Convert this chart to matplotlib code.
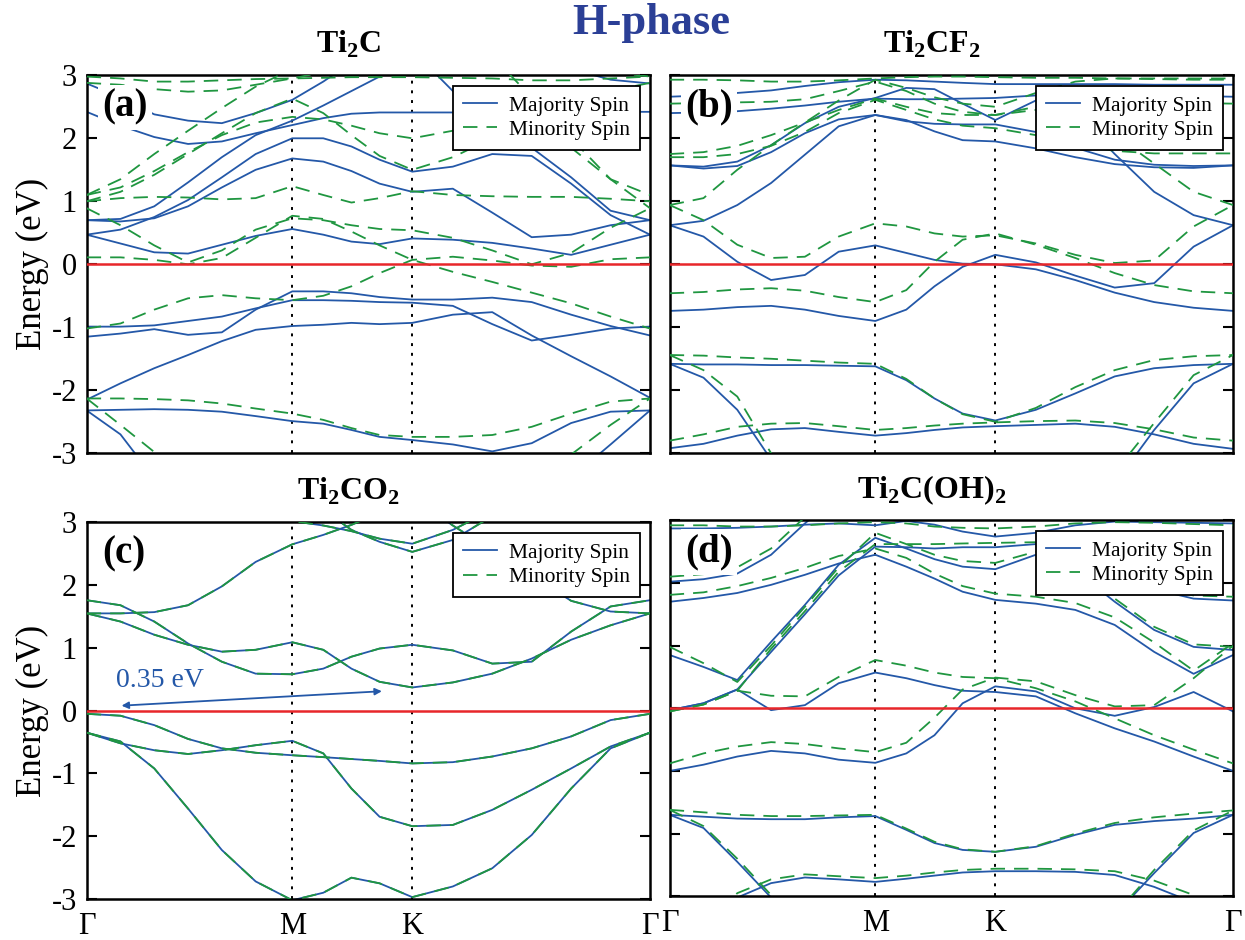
import numpy as np
import matplotlib
matplotlib.use('Agg')
import matplotlib.pyplot as plt
from matplotlib.lines import Line2D

plt.rcParams['font.family'] = 'serif'
plt.rcParams['font.serif'] = ['Liberation Serif', 'DejaVu Serif']
plt.rcParams['mathtext.fontset'] = 'custom'
plt.rcParams['mathtext.rm'] = 'Liberation Serif'
plt.rcParams['mathtext.bf'] = 'Liberation Serif:bold'
plt.rcParams['axes.unicode_minus'] = False

nan = np.nan

# k-path positions (Gamma - M - K - Gamma), read along the x axis
kpts = [0, 0.06, 0.12, 0.18, 0.24, 0.30, 0.365, 0.42, 0.47, 0.52, 0.578,
        0.65, 0.72, 0.79, 0.86, 0.93, 1.0]
kticks = [0.0, 0.365, 0.578, 1.0]
klabels = ['Γ', 'M', 'K', 'Γ']
yticks = [3, 2, 1, 0, -1, -2, -3]

titles = [r'Ti$_\mathbf{2}$C', r'Ti$_\mathbf{2}$CF$_\mathbf{2}$',
          r'Ti$_\mathbf{2}$CO$_\mathbf{2}$', r'Ti$_\mathbf{2}$C(OH)$_\mathbf{2}$']
tags = ['(a)', '(b)', '(c)', '(d)']

# ---- Ti2C ----
a_up = [
    [-2.32, -2.31, -2.30, -2.31, -2.34, -2.41, -2.49, -2.53, -2.63, -2.74, -2.79, -2.86, -2.97, -2.84, -2.52, -2.34, -2.32],
    [-2.32, -2.70, -3.40, nan, nan, nan, nan, nan, nan, nan, nan, nan, nan, nan, -3.39, -2.86, -2.32],
    [-2.15, -1.89, -1.65, -1.44, -1.22, -1.04, -0.98, -0.96, -0.93, -0.95, -0.93, -0.80, -0.76, -1.13, -1.46, -1.78, -2.12],
    [-1.15, -1.10, -1.03, -1.12, -1.08, -0.72, -0.43, -0.43, -0.46, -0.52, -0.56, -0.56, -0.53, -0.60, -0.80, -0.98, -1.13],
    [-0.99, -0.99, -0.97, -0.90, -0.83, -0.70, -0.57, -0.57, -0.58, -0.60, -0.61, -0.66, -0.95, -1.21, -1.12, -1.02, -0.99],
    [0.47, 0.33, 0.19, 0.17, 0.31, 0.45, 0.56, 0.47, 0.36, 0.32, 0.41, 0.39, 0.34, 0.25, 0.15, 0.31, 0.47],
    [0.70, 0.68, 0.73, 0.92, 1.22, 1.50, 1.68, 1.63, 1.48, 1.28, 1.15, 1.20, 0.82, 0.43, 0.47, 0.62, 0.70],
    [0.47, 0.55, 0.75, 1.02, 1.38, 1.75, 2.00, 2.00, 1.87, 1.66, 1.47, 1.55, 1.75, 1.72, 1.28, 0.78, 0.47],
    [nan, nan, nan, nan, nan, nan, nan, nan, nan, nan, 3.40, 2.75, 2.30, 1.85, 1.38, 0.85, 0.70],
    [2.42, 2.20, 2.02, 1.91, 1.95, 2.08, 2.21, 2.32, 2.39, 2.41, 2.41, 2.41, 2.41, 2.41, 2.41, 2.42, 2.42],
    [0.70, 0.72, 0.92, 1.30, 1.70, 2.05, 2.28, 2.52, 2.75, 2.98, 3.25, nan, nan, nan, nan, nan, nan],
    [2.87, 2.65, 2.38, 2.28, 2.24, 2.40, 2.61, 2.90, 3.20, nan, nan, nan, nan, nan, nan, nan, nan],
    [nan, nan, nan, nan, nan, nan, nan, nan, nan, nan, nan, nan, nan, nan, 3.10, 2.93, 2.87],
]
a_dn = [
    [-2.13, -2.13, -2.14, -2.16, -2.21, -2.29, -2.37, -2.47, -2.60, -2.71, -2.74, -2.74, -2.71, -2.58, -2.37, -2.18, -2.13],
    [-2.13, -2.55, -2.98, -3.40, nan, nan, nan, nan, nan, nan, nan, nan, nan, -3.45, -3.02, -2.55, -2.13],
    [-1.02, -0.94, -0.72, -0.54, -0.49, -0.54, -0.57, -0.50, -0.35, -0.14, 0.07, 0.12, 0.06, -0.02, -0.04, 0.08, 0.11],
    [0.11, 0.11, 0.07, 0.00, 0.10, 0.42, 0.77, 0.72, 0.52, 0.30, 0.07, -0.12, -0.28, -0.45, -0.62, -0.83, -1.02],
    [0.89, 0.62, 0.30, 0.03, 0.22, 0.55, 0.73, 0.70, 0.62, 0.56, 0.54, 0.42, 0.22, 0.00, 0.18, 0.58, 0.89],
    [1.00, 1.05, 1.07, 1.06, 1.03, 1.05, 1.24, 1.10, 0.98, 1.05, 1.16, 1.10, 1.08, 1.07, 1.07, 1.04, 1.00],
    [1.10, 1.22, 1.48, 1.78, 2.05, 2.25, 2.34, 2.30, 2.20, 2.08, 2.00, 2.12, 2.40, 2.35, 1.85, 1.35, 1.10],
    [1.10, 1.35, 1.75, 2.12, 2.48, 2.82, 3.10, nan, nan, nan, nan, nan, 3.30, 2.65, 2.00, 1.35, 0.89],
    [1.00, 1.15, 1.42, 1.75, 2.08, 2.40, 2.63, 2.40, 2.05, 1.72, 1.50, 1.70, 2.00, 2.30, 2.55, 2.75, 2.88],
    [2.88, 2.85, 2.78, 2.74, 2.76, 2.85, 2.95, 3.05, 3.20, nan, nan, nan, nan, nan, nan, 3.05, 2.98],
    [2.98, 2.95, 2.90, 2.90, 2.92, 2.94, 2.95, 2.96, 2.97, 2.97, 2.97, 2.96, 2.95, 2.92, 2.92, 2.95, 2.98],
]

# ---- Ti2CF2 ----
b_up = [
    [-1.58, -1.59, -1.59, -1.60, -1.60, -1.61, -1.62, -1.84, -2.13, -2.37, -2.48, -2.31, -2.05, -1.78, -1.65, -1.60, -1.58],
    [-1.58, -1.80, -2.31, -3.10, nan, nan, nan, nan, nan, nan, nan, nan, nan, -3.48, -2.63, -1.89, -1.58],
    [-2.92, -2.85, -2.72, -2.62, -2.60, -2.66, -2.72, -2.68, -2.63, -2.59, -2.57, -2.55, -2.53, -2.58, -2.70, -2.85, -2.93],
    [-0.74, -0.72, -0.68, -0.66, -0.72, -0.82, -0.90, -0.72, -0.35, -0.04, 0.15, 0.03, -0.18, -0.37, -0.30, 0.28, 0.62],
    [0.62, 0.44, 0.04, -0.25, -0.17, 0.20, 0.30, 0.18, 0.07, 0.01, 0.00, -0.08, -0.25, -0.45, -0.60, -0.69, -0.74],
    [0.62, 0.69, 0.94, 1.29, 1.74, 2.19, 2.37, 2.29, 2.11, 1.97, 1.95, 1.84, 1.70, 1.59, 1.54, 1.53, 1.57],
    [1.57, 1.55, 1.63, 1.89, 2.24, 2.50, 2.64, 2.80, 2.78, 2.55, 2.29, 2.60, 2.40, 1.75, 1.15, 0.78, 0.62],
    [1.57, 1.52, 1.56, 1.78, 2.08, 2.30, 2.37, 2.27, 2.23, 2.22, 2.22, 2.10, 1.85, 1.66, 1.58, 1.56, 1.57],
    [2.66, 2.68, 2.72, 2.76, 2.83, 2.89, 2.93, 2.92, 2.90, 2.88, 2.86, 2.86, 2.86, 2.86, 2.85, 2.85, 2.85],
    [2.40, 2.41, 2.43, 2.47, 2.52, 2.58, 2.63, 2.62, 2.62, 2.63, 2.64, 2.68, 2.70, 2.70, 2.68, 2.67, 2.66],
]
b_dn = [
    [-1.44, -1.45, -1.48, -1.50, -1.53, -1.56, -1.58, -1.82, -2.13, -2.38, -2.50, -2.28, -1.95, -1.68, -1.52, -1.46, -1.44],
    [-1.44, -1.68, -2.10, -3.00, -3.60, nan, nan, nan, nan, nan, nan, nan, nan, -3.30, -2.52, -1.76, -1.44],
    [-2.80, -2.70, -2.58, -2.53, -2.52, -2.57, -2.63, -2.60, -2.56, -2.53, -2.51, -2.49, -2.48, -2.52, -2.62, -2.75, -2.80],
    [-0.46, -0.44, -0.40, -0.38, -0.42, -0.52, -0.60, -0.41, 0.04, 0.39, 0.49, 0.31, 0.10, -0.14, -0.33, -0.43, -0.46],
    [0.94, 0.70, 0.31, 0.10, 0.12, 0.44, 0.65, 0.60, 0.49, 0.44, 0.46, 0.33, 0.15, 0.02, 0.06, 0.60, 0.94],
    [0.94, 1.05, 1.50, 1.89, 2.25, 2.60, 2.93, 2.80, 2.65, 2.55, 2.50, 2.72, 2.90, 2.95, 2.95, 2.95, 2.95],
    [1.75, 1.78, 1.88, 2.05, 2.25, 2.45, 2.63, 2.50, 2.40, 2.37, 2.37, 2.45, 2.40, 2.05, 1.60, 1.15, 0.94],
    [1.70, 1.70, 1.75, 1.88, 2.10, 2.40, 2.61, 2.45, 2.30, 2.20, 2.16, 2.05, 1.90, 1.80, 1.76, 1.76, 1.76],
    [2.93, 2.93, 2.92, 2.90, 2.90, 2.92, 2.95, 2.97, 2.98, 2.98, 2.97, 2.96, 2.96, 2.95, 2.94, 2.93, 2.93],
    [2.55, 2.56, 2.57, 2.58, 2.62, 2.75, 2.90, 2.75, 2.55, 2.42, 2.37, 2.50, 2.62, 2.65, 2.60, 2.56, 2.55],
]

# ---- Ti2CO2 (both spins coincide) ----
c_up = [
    [-0.35, -0.49, -0.92, -1.56, -2.22, -2.72, -3.02, -2.90, -2.66, -2.75, -2.97, -2.80, -2.51, -1.98, -1.24, -0.60, -0.35],
    [-0.35, -0.52, -0.63, -0.69, -0.63, -0.55, -0.48, -0.68, -1.24, -1.69, -1.84, -1.82, -1.58, -1.26, -0.92, -0.57, -0.35],
    [-0.05, -0.08, -0.23, -0.45, -0.60, -0.67, -0.71, -0.74, -0.77, -0.80, -0.84, -0.82, -0.73, -0.60, -0.41, -0.15, -0.05],
    [1.55, 1.55, 1.57, 1.68, 1.98, 2.37, 2.65, 2.80, 2.96, 3.15, 3.40, 2.95, 2.55, 2.15, 1.75, 1.58, 1.55],
    [1.55, 1.42, 1.21, 1.05, 0.94, 0.97, 1.09, 0.97, 0.67, 0.46, 0.37, 0.45, 0.59, 0.83, 1.13, 1.36, 1.55],
    [1.76, 1.68, 1.42, 1.07, 0.78, 0.59, 0.58, 0.67, 0.86, 0.99, 1.05, 0.96, 0.75, 0.78, 1.26, 1.66, 1.76],
    [nan, nan, nan, nan, nan, 3.30, 3.02, 2.95, 2.86, 2.74, 2.66, 2.88, 3.20, nan, nan, nan, nan],
    [nan, nan, nan, nan, nan, nan, nan, 3.20, 2.88, 2.69, 2.53, 2.72, 3.10, nan, nan, nan, nan],
]
c_dn = c_up

# ---- Ti2C(OH)2 ----
d_up = [
    [-1.70, -1.73, -1.76, -1.77, -1.77, -1.74, -1.72, -1.94, -2.15, -2.26, -2.29, -2.21, -2.02, -1.86, -1.80, -1.76, -1.70],
    [-1.70, -1.91, -2.45, -3.02, -3.60, nan, nan, nan, nan, nan, nan, nan, nan, -3.30, -2.63, -1.99, -1.70],
    [nan, -3.60, -3.02, -2.79, -2.70, -2.73, -2.77, -2.72, -2.67, -2.62, -2.60, -2.60, -2.61, -2.66, -2.85, -3.10, nan],
    [-1.00, -0.90, -0.77, -0.68, -0.72, -0.82, -0.87, -0.72, -0.43, 0.08, 0.35, 0.27, 0.00, -0.12, 0.02, 0.26, -0.05],
    [-0.03, 0.08, 0.30, -0.03, 0.05, 0.40, 0.57, 0.48, 0.37, 0.28, 0.26, 0.19, -0.08, -0.32, -0.53, -0.77, -1.00],
    [0.85, 0.66, 0.45, 1.06, 1.65, 2.29, 2.72, 2.55, 2.38, 2.26, 2.22, 2.45, 2.20, 1.70, 1.25, 0.98, 0.93],
    [-0.03, 0.08, 0.30, 0.90, 1.50, 2.12, 2.58, 2.57, 2.55, 2.57, 2.57, 2.62, 2.45, 2.15, 1.90, 1.75, 1.72],
    [1.70, 1.76, 1.84, 1.97, 2.13, 2.31, 2.45, 2.26, 2.07, 1.86, 1.73, 1.67, 1.57, 1.33, 0.90, 0.55, 0.85],
    [2.02, 2.06, 2.15, 2.45, 2.95, 3.40, nan, nan, nan, nan, nan, nan, nan, nan, nan, nan, nan],
    [2.87, 2.87, 2.88, 2.90, 2.93, 2.95, 2.92, 2.99, 2.93, 2.82, 2.74, 2.80, 2.92, 2.98, 2.97, 2.96, 2.95],
]
d_dn = [
    [-1.62, -1.66, -1.70, -1.72, -1.72, -1.71, -1.70, -1.92, -2.13, -2.25, -2.29, -2.20, -2.00, -1.83, -1.74, -1.68, -1.63],
    [-1.62, -1.88, -2.40, -2.98, -3.60, nan, nan, nan, nan, nan, nan, nan, nan, -3.30, -2.58, -1.95, -1.63],
    [nan, -3.50, -2.95, -2.73, -2.65, -2.68, -2.71, -2.67, -2.62, -2.58, -2.56, -2.56, -2.57, -2.60, -2.75, -2.98, -3.30],
    [-0.88, -0.72, -0.61, -0.54, -0.57, -0.64, -0.70, -0.55, -0.15, 0.30, 0.49, 0.43, 0.21, 0.03, 0.05, 0.48, 1.00],
    [-0.05, 0.06, 0.28, 0.20, 0.19, 0.50, 0.77, 0.68, 0.57, 0.50, 0.48, 0.32, 0.11, -0.16, -0.43, -0.66, -0.88],
    [0.98, 0.72, 0.42, 1.00, 1.62, 2.25, 2.80, 2.62, 2.45, 2.35, 2.32, 2.50, 2.25, 1.75, 1.30, 1.02, 0.98],
    [-0.05, 0.06, 0.28, 0.95, 1.55, 2.18, 2.62, 2.62, 2.62, 2.63, 2.64, 2.65, 2.50, 2.20, 1.95, 1.80, 1.78],
    [1.81, 1.85, 1.95, 2.08, 2.24, 2.43, 2.55, 2.40, 2.15, 1.95, 1.83, 1.78, 1.68, 1.45, 1.05, 0.60, 1.04],
    [2.92, 2.92, 2.90, 2.90, 2.92, 2.95, 2.97, 2.95, 2.90, 2.88, 2.87, 2.90, 2.95, 2.97, 2.96, 2.94, 2.92],
    [2.10, 2.14, 2.25, 2.55, 3.05, 3.40, nan, nan, nan, nan, nan, nan, nan, nan, nan, nan, nan],
]

blue = '#2458a8'
green = '#1f9640'
red = '#e8262a'

fig = plt.figure(figsize=(12.45, 9.4), dpi=100)
rects = [[0.0696, 0.5178, 0.4525, 0.4021],
         [0.5379, 0.5178, 0.4525, 0.4021],
         [0.0696, 0.0436, 0.4525, 0.4007],
         [0.5379, 0.0465, 0.4525, 0.4000]]
ups = [a_up, b_up, c_up, d_up]
dns = [a_dn, b_dn, c_dn, d_dn]

for i in range(4):
    ax = fig.add_axes(rects[i])
    for band in ups[i]:
        ax.plot(kpts, band, color=blue, lw=1.3, zorder=2)
    for band in dns[i]:
        ax.plot(kpts, band, color=green, lw=1.3, dashes=(8, 5), zorder=3)
    ax.axhline(0, color=red, lw=1.8, zorder=4)
    for kx in kticks[1:3]:
        ax.axvline(kx, color='k', lw=1.4, ls=(0, (1.5, 3.5)), zorder=1)
    ax.set_xlim(0, 1)
    ax.set_ylim(-3, 3)
    ax.set_yticks(yticks)
    ax.set_xticks(kticks)
    ax.tick_params(axis='y', direction='in', length=7, width=1.5,
                   left=True, right=True, labelsize=22, pad=7)
    ax.tick_params(axis='x', length=0, labelsize=22, pad=9)
    if i in (0, 2):
        ax.set_yticklabels([str(v) for v in yticks])
        ax.set_ylabel('Energy (eV)', fontsize=25, labelpad=2)
    else:
        ax.set_yticklabels([])
    if i in (2, 3):
        ax.set_xticklabels(klabels)
    else:
        ax.set_xticklabels([])
    for sp in ax.spines.values():
        sp.set_linewidth(1.8)
    ax.text(0.465, 1.06, titles[i], transform=ax.transAxes, ha='center',
            va='baseline', fontsize=23, fontweight='bold')
    ax.text(0.028, 0.915, tags[i], transform=ax.transAxes, ha='left',
            va='center', fontsize=28, fontweight='bold', zorder=6,
            bbox=dict(facecolor='white', edgecolor='none', pad=3))
    handles = [Line2D([], [], color=blue, lw=1.3),
               Line2D([], [], color=green, lw=1.3, dashes=(8, 5))]
    leg = ax.legend(handles, ['Majority Spin', 'Minority Spin'], loc='upper right',
                    bbox_to_anchor=(0.982, 0.972), fontsize=15.5, fancybox=False,
                    framealpha=1, edgecolor='k', borderaxespad=0,
                    handlelength=1.6, handletextpad=0.55, labelspacing=0.2,
                    borderpad=0.45)
    leg.get_frame().set_linewidth(1.3)
    leg.set_zorder(7)
    if i == 2:
        ax.text(0.13, 0.48, '0.35 eV', color=blue, fontsize=20, ha='center', va='center')
        ax.annotate('', xy=(0.062, 0.08), xytext=(0.524, 0.31),
                    arrowprops=dict(arrowstyle='<|-|>', color=blue, lw=1.3,
                                    mutation_scale=10, shrinkA=0, shrinkB=0))

fig.text(0.523, 0.976, 'H-phase', color='#2b3f96', fontsize=32,
         fontweight='bold', ha='center', va='center')

fig.savefig('out.png', dpi=100)
